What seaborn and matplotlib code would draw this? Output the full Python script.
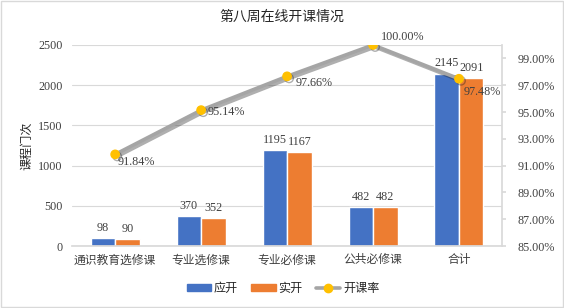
import matplotlib
matplotlib.use("Agg")
import matplotlib.pyplot as plt
import matplotlib.patheffects as pe
from matplotlib.patches import Patch
from matplotlib.lines import Line2D
import seaborn as sns
import pandas as pd
import numpy as np

categories = ["通识教育选修课", "专业选修课", "专业必修课", "公共必修课", "合计"]
planned = [98, 370, 1195, 482, 2145]
actual = [90, 352, 1167, 482, 2091]
rate = [91.84, 95.14, 97.66, 100.00, 97.48]
series_names = ["应开", "实开", "开课率"]

sns.set_theme(style="white")
plt.rcParams["font.family"] = ["Liberation Serif", "Noto Sans CJK SC", "DejaVu Sans"]

df = pd.DataFrame({
    "cat": categories * 2,
    "val": planned + actual,
    "series": [series_names[0]] * len(categories) + [series_names[1]] * len(categories),
})

fig = plt.figure(figsize=(5.64, 3.08), dpi=100)
ax = fig.add_axes([0.128, 0.201, 0.762, 0.653])
blue, orange = "#4472C4", "#ED7D31"
sns.barplot(data=df, x="cat", y="val", hue="series", palette=[blue, orange],
            width=0.57, ax=ax, legend=False, saturation=1)
for cont in ax.containers:
    ax.bar_label(cont, fontsize=8.7, padding=3, color="#404040")

ax.set_ylim(0, 2500)
ax.set_yticks(range(0, 2501, 500))
ax.set_xlim(-0.5, 4.5)
ax.set_xlabel("")
ax.set_ylabel("课程门次", fontsize=8.7, color="#262626", labelpad=3)
ax.tick_params(axis="both", labelsize=8.7, colors="#404040", length=0)
ax.tick_params(axis="y", pad=7)
ax.tick_params(axis="x", pad=6, labelsize=8.5)
ax.yaxis.grid(True, color="#D9D9D9", linewidth=0.8)
ax.set_axisbelow(True)
for s in ["left", "top", "right"]:
    ax.spines[s].set_visible(False)
ax.spines["bottom"].set_color("#D9D9D9")

ax2 = ax.twinx()
ax2.plot(range(len(categories)), rate, color="#A5A5A5", linewidth=2.6,
         marker="o", markersize=6, markerfacecolor="#FFC000", markeredgecolor="#FFC000",
         path_effects=[pe.SimpleLineShadow(offset=(1.5, -1.5), alpha=0.35), pe.Normal()], zorder=5)
ax2.set_ylim(85, 100)
ax2.set_yticks(np.arange(85, 100, 2))
ax2.set_yticklabels([f"{v:.2f}%" for v in np.arange(85, 100, 2)])
ax2.tick_params(axis="y", labelsize=8.7, colors="#404040", length=3, color="#D9D9D9", pad=8)
for s in ["left", "top", "bottom"]:
    ax2.spines[s].set_visible(False)
ax2.spines["right"].set_color("#D9D9D9")
ax2.grid(False)

offsets = [(1.5, -5.5), (5, -1), (6.5, -5), (6, 6), (3, -9.5)]
for i, (v, off) in enumerate(zip(rate, offsets)):
    ax2.annotate(f"{v:.2f}%", (i, v), xytext=off, textcoords="offset points",
                 fontsize=8.7, color="#404040", ha="left", va="center", zorder=6)

fig.suptitle("第八周在线开课情况", fontsize=10, y=0.965, color="#262626")

handles = [Patch(color=blue), Patch(color=orange),
           Line2D([0], [0], color="#A5A5A5", linewidth=2.6, marker="o", markersize=6,
                  markerfacecolor="#FFC000", markeredgecolor="#FFC000")]
fig.legend(handles, series_names, loc="center", bbox_to_anchor=(0.502, 0.062), ncol=3,
           frameon=False, fontsize=8.7, handlelength=2.0, handleheight=0.6, columnspacing=1.1,
           handletextpad=0.25)

border = plt.Rectangle((0.002, 0.003), 0.996, 0.994, transform=fig.transFigure,
                       fill=False, edgecolor="#D9D9D9", linewidth=1)
fig.patches.append(border)

fig.savefig("out.png", dpi=100)
